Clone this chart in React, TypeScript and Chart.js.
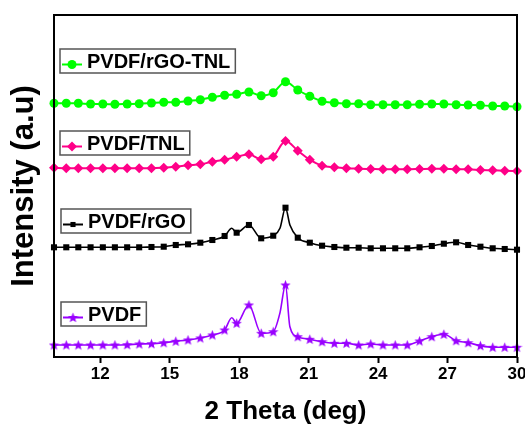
import React, { useEffect, useRef } from 'react';
import { Chart, registerables } from 'chart.js';

Chart.register(...registerables);

// 2θ positions of the plotted markers (deg)
const markerX = [
  10.0, 10.53, 11.05, 11.58, 12.11, 12.63, 13.16, 13.68, 14.21, 14.74,
  15.26, 15.79, 16.32, 16.84, 17.37, 17.89, 18.42, 18.95, 19.47, 20.0,
  20.53, 21.05, 21.58, 22.11, 22.63, 23.16, 23.68, 24.21, 24.74, 25.26,
  25.79, 26.32, 26.84, 27.37, 27.89, 28.42, 28.95, 29.47, 30.0,
];

// Intensity (a.u., vertically offset traces)
const pvdfRgoTnl = [
  253.7, 253.7, 253.7, 253, 253, 252.7, 253, 253.3, 254, 254.7,
  254.7, 256, 257.3, 259.7, 261.7, 262.7, 265, 261.3, 264.3, 275.3,
  267, 260.7, 255.7, 254.3, 253.3, 253.3, 252.3, 252.3, 252.3, 252.3,
  252.7, 253, 253, 252.3, 252, 251.7, 251, 251, 250.3,
];
const pvdfTnl = [
  189.3, 188.7, 188.7, 188.7, 188.7, 188.7, 188.7, 188.7, 188.7, 189.3,
  190.3, 191.7, 192.7, 195.3, 197.3, 200.3, 202.7, 197.7, 200.3, 216,
  206.3, 197.3, 191.3, 189.7, 188.7, 188.3, 188, 187.7, 187.7, 187.7,
  188, 188.3, 188.3, 187.7, 187.7, 187, 186.7, 186.3, 186,
];
const pvdfRgo = [
  109.7, 109.7, 109.7, 109.7, 109.7, 109.7, 109.7, 109.7, 110, 110.3,
  112, 112.7, 114.3, 117, 121, 124.3, 132, 118.7, 121.3, 149.3,
  119.3, 114.3, 111.3, 110, 109.3, 109.3, 108.7, 108.7, 108.7, 108.7,
  109.7, 111, 113.3, 114.7, 112, 110.3, 108.7, 108, 107.3,
];
const pvdf = [
  12, 12, 12, 12, 12, 12, 12.3, 13, 13.3, 14.3,
  15.7, 17, 19, 22, 27, 33.7, 52, 23.7, 25.3, 72,
  20.3, 17.7, 15.3, 13.7, 13.7, 12, 13, 12, 12, 12,
  16, 20.3, 22.7, 16.3, 14.3, 11.3, 9.7, 9.7, 9.7,
];
// extra (unmarked) points on the sharp peaks
const pvdfRgoPeakX = [17.68, 19.76, 20.19];
const pvdfRgoPeakY = [128.7, 128.7, 132];
const pvdfPeakX = [17.68, 19.76, 20.19];
const pvdfPeakY = [39.3, 44, 30.3];

const xTicks = [12, 15, 18, 21, 24, 27, 30];
const seriesNames = ['PVDF/rGO-TNL', 'PVDF/TNL', 'PVDF/rGO', 'PVDF'];

const FONT = '"Liberation Sans", Arial, sans-serif';
const COLORS = ['#00FF00', '#FF0088', '#000000', '#9900FF'];

type Pt = { x: number; y: number; m: boolean };

function buildPoints(ys: number[], ex: number[] = [], ey: number[] = []): Pt[] {
  const pts: Pt[] = markerX.map((x, i) => ({ x, y: ys[i], m: true }));
  ex.forEach((x, i) => pts.push({ x, y: ey[i], m: false }));
  pts.sort((a, b) => a.x - b.x);
  return pts;
}

function makeStar(color: string, size: number): HTMLCanvasElement {
  const c = document.createElement('canvas');
  c.width = size;
  c.height = size;
  const g = c.getContext('2d')!;
  const cx = size / 2;
  const cy = size / 2 + 0.4;
  const R = size / 2;
  const r = R * 0.42;
  g.beginPath();
  for (let k = 0; k < 10; k++) {
    const ang = -Math.PI / 2 + (k * Math.PI) / 5;
    const rad = k % 2 === 0 ? R : r;
    g.lineTo(cx + rad * Math.cos(ang), cy + rad * Math.sin(ang));
  }
  g.closePath();
  g.fillStyle = color;
  g.fill();
  return c;
}

function drawMarker(ctx: CanvasRenderingContext2D, style: any, x: number, y: number, r: number, color: string) {
  ctx.save();
  ctx.fillStyle = color;
  if (style instanceof HTMLCanvasElement) {
    ctx.drawImage(style, x - style.width / 2, y - style.height / 2);
  } else if (style === 'circle') {
    ctx.beginPath();
    ctx.arc(x, y, r, 0, Math.PI * 2);
    ctx.fill();
  } else if (style === 'rectRot') {
    ctx.beginPath();
    ctx.moveTo(x - r, y);
    ctx.lineTo(x, y - r);
    ctx.lineTo(x + r, y);
    ctx.lineTo(x, y + r);
    ctx.closePath();
    ctx.fill();
  } else if (style === 'rect') {
    const s = r * Math.SQRT1_2;
    ctx.fillRect(x - s, y - s, 2 * s, 2 * s);
  }
  ctx.restore();
}

// legend boxes: offsets from the plot area's top-left corner
const legendPlacement = [
  { dx: 6, dy: 34 },
  { dx: 6, dy: 116 },
  { dx: 7, dy: 194 },
  { dx: 7, dy: 287 },
];

const framePlugin = {
  id: 'frame',
  afterDraw(chart: any) {
    const { ctx, chartArea: a } = chart;
    ctx.save();
    ctx.strokeStyle = '#000';
    ctx.lineWidth = 2;
    ctx.strokeRect(a.left, a.top, a.right - a.left, a.bottom - a.top);
    ctx.restore();
  },
};

const legendPlugin = {
  id: 'boxLegend',
  afterDraw(chart: any) {
    const { ctx, chartArea: a } = chart;
    ctx.save();
    ctx.font = `bold 20px ${FONT}`;
    chart.data.datasets.forEach((ds: any, i: number) => {
      const p = legendPlacement[i];
      const x0 = a.left + p.dx;
      const y0 = a.top + p.dy;
      const tw = ctx.measureText(ds.label).width;
      const w = 27 + tw + 5;
      const h = 24;
      ctx.strokeStyle = '#555';
      ctx.lineWidth = 1.5;
      ctx.strokeRect(x0, y0, w, h);
      const ly = y0 + 15.5;
      ctx.strokeStyle = ds.borderColor;
      ctx.lineWidth = 2;
      ctx.beginPath();
      ctx.moveTo(x0 + 2, ly);
      ctx.lineTo(x0 + 22, ly);
      ctx.stroke();
      drawMarker(ctx, ds.pointStyle, x0 + 12, ly, ds.legendRadius, ds.borderColor);
      ctx.fillStyle = '#000';
      ctx.textBaseline = 'alphabetic';
      ctx.textAlign = 'left';
      ctx.fillText(ds.label, x0 + 27, y0 + 19);
    });
    ctx.restore();
  },
};

export default function App() {
  const ref = useRef<HTMLCanvasElement | null>(null);

  useEffect(() => {
    if (!ref.current) return;
    const star = makeStar(COLORS[3], 11);
    const radius = (r: number) => (c: any) => (c.raw && c.raw.m ? r : 0);

    const chart = new Chart(ref.current, {
      type: 'line',
      data: {
        datasets: [
          {
            label: seriesNames[0],
            data: buildPoints(pvdfRgoTnl),
            borderColor: COLORS[0],
            backgroundColor: COLORS[0],
            borderWidth: 2,
            pointStyle: 'circle',
            pointRadius: radius(4.5),
            pointBorderWidth: 0,
            legendRadius: 4.5,
            cubicInterpolationMode: 'monotone',
          } as any,
          {
            label: seriesNames[1],
            data: buildPoints(pvdfTnl),
            borderColor: COLORS[1],
            backgroundColor: COLORS[1],
            borderWidth: 2,
            pointStyle: 'rectRot',
            pointRadius: radius(5),
            pointBorderWidth: 0,
            legendRadius: 5,
            cubicInterpolationMode: 'monotone',
          } as any,
          {
            label: seriesNames[2],
            data: buildPoints(pvdfRgo, pvdfRgoPeakX, pvdfRgoPeakY),
            borderColor: COLORS[2],
            backgroundColor: COLORS[2],
            borderWidth: 1.6,
            pointStyle: 'rect',
            pointRadius: radius(4.3),
            pointBorderWidth: 0,
            legendRadius: 3.6,
            cubicInterpolationMode: 'monotone',
          } as any,
          {
            label: seriesNames[3],
            data: buildPoints(pvdf, pvdfPeakX, pvdfPeakY),
            borderColor: COLORS[3],
            backgroundColor: COLORS[3],
            borderWidth: 1.6,
            pointStyle: star,
            pointRadius: radius(5),
            pointBorderWidth: 0,
            legendRadius: 5,
            cubicInterpolationMode: 'monotone',
          } as any,
        ],
      },
      options: {
        animation: false,
        responsive: true,
        maintainAspectRatio: false,
        events: [],
        clip: false as any,
        layout: { padding: { top: 15, right: 8, left: 0, bottom: 0 } },
        plugins: {
          legend: { display: false },
          tooltip: { enabled: false },
          title: { display: false },
        },
        scales: {
          x: {
            type: 'linear',
            min: 10,
            max: 30,
            afterBuildTicks: (scale: any) => {
              scale.ticks = xTicks.map((v) => ({ value: v }));
            },
            afterFit: (scale: any) => {
              scale.height = 68;
              scale.paddingLeft = 0;
              scale.paddingRight = 0;
            },
            ticks: {
              color: '#000',
              padding: 1,
              maxRotation: 0,
              autoSkip: false,
              font: { family: FONT, size: 17, weight: 'bold' },
              callback: (v: any) => String(v),
            },
            grid: {
              drawOnChartArea: false,
              drawTicks: true,
              tickLength: 6,
              tickColor: '#000',
              tickWidth: 2,
            },
            border: { display: false },
            title: {
              display: true,
              text: '2 Theta (deg)',
              color: '#000',
              font: { family: FONT, size: 26, weight: 'bold', lineHeight: 1.0 },
              padding: { top: 0, bottom: 0 },
            },
          },
          y: {
            type: 'linear',
            min: 0,
            max: 342,
            afterFit: (scale: any) => {
              scale.width = 54;
            },
            ticks: { display: false },
            grid: { display: false, drawTicks: false },
            border: { display: false },
            title: {
              display: true,
              text: 'Intensity (a.u)',
              color: '#000',
              font: { family: FONT, size: 31, weight: 'bold', lineHeight: 1.2 },
              padding: { top: 6, bottom: 0 },
            },
          },
        },
      } as any,
      plugins: [framePlugin, legendPlugin],
    });

    return () => chart.destroy();
  }, []);

  return (
    <div style={{ position: 'fixed', left: 0, top: 0, width: 525, height: 425, background: '#fff' }}>
      <canvas ref={ref} />
    </div>
  );
}
